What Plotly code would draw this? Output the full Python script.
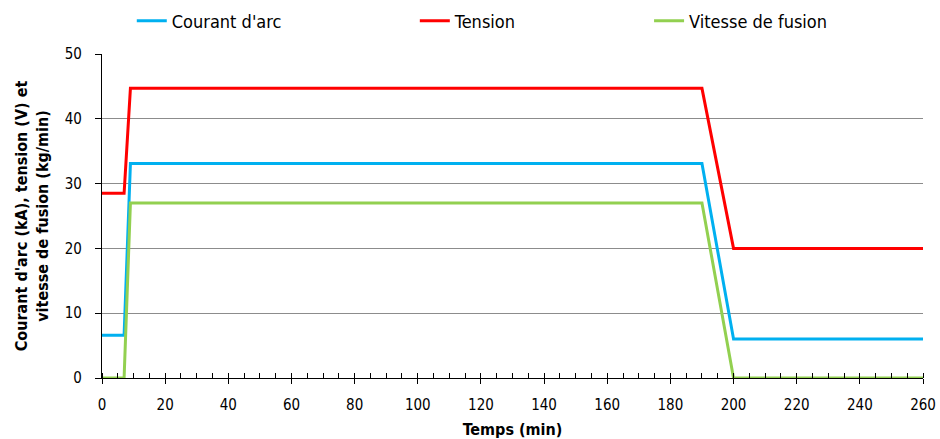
import plotly.graph_objects as go

time_courant = [0, 7, 9, 190, 200, 260]
courant = [6.6, 6.6, 33.1, 33.1, 6.0, 6.0]
time_tension = [0, 7, 9, 190, 200, 260]
tension = [28.5, 28.5, 44.7, 44.7, 20.0, 20.0]
time_vitesse = [0, 7, 9, 190, 200, 260]
vitesse = [0, 0, 27.0, 27.0, 0, 0]

names = ["Courant d'arc", "Tension", "Vitesse de fusion"]
colors = ["#00B0F0", "#FF0000", "#92D050"]

font_family = "DejaVu Sans Condensed, Liberation Sans Narrow, sans-serif"

fig = go.Figure()
series = [(time_courant, courant), (time_tension, tension), (time_vitesse, vitesse)]
legends = ["legend", "legend2", "legend3"]
for (x, y), n, c, lg in zip(series, names, colors, legends):
    fig.add_trace(go.Scatter(x=x, y=y, mode="lines", name=n, showlegend=True,
                             line=dict(color=c, width=3), legend=lg))

# helper axis carrying the upper half of the crossing major ticks
fig.add_trace(go.Scatter(x=[0, 260], y=[0, 0], mode="lines", xaxis="x2",
                         line=dict(width=0), hoverinfo="skip", showlegend=False))

leg_common = dict(orientation="h", yanchor="middle", xanchor="left",
                  xref="container", yref="container", y=0.952,
                  font=dict(family=font_family, size=18, color="#000"),
                  bgcolor="rgba(0,0,0,0)", itemwidth=30)
fig.update_layout(
    showlegend=True,
    legend=dict(x=0.1402, **leg_common),
    legend2=dict(x=0.4413, **leg_common),
    legend3=dict(x=0.6905, **leg_common),
)

fig.update_layout(
    width=940, height=439,
    margin=dict(l=102, r=17, t=54, b=61, autoexpand=False),
    paper_bgcolor="white", plot_bgcolor="white",
    font=dict(family=font_family, size=15, color="#000"),
    xaxis=dict(range=[0, 260], tickmode="linear", tick0=0, dtick=20, automargin=False,
               showgrid=False, zeroline=False, showline=True,
               linecolor="#000", linewidth=1.2,
               ticks="outside", ticklen=5, tickcolor="#000", ticklabelstandoff=8,
               minor=dict(dtick=5, ticks="inside", ticklen=5, tickcolor="#000", showgrid=False),
               tickfont=dict(size=15),
               title=dict(text="<b>Temps (min)</b>", font=dict(size=16), standoff=11)),
    xaxis2=dict(range=[0, 260], overlaying="x", anchor="y", side="bottom",
                tickmode="linear", tick0=0, dtick=20, automargin=False,
                showgrid=False, zeroline=False, showline=False,
                ticks="inside", ticklen=5, tickcolor="#000", showticklabels=False),
    yaxis=dict(range=[0, 50], tickmode="linear", tick0=0, dtick=10, automargin=False,
               showgrid=True, gridcolor="#8c8c8c", gridwidth=1,
               zeroline=False, showline=True, linecolor="#000", linewidth=1.2,
               ticks="outside", ticklen=6, tickcolor="#000", ticklabelstandoff=10,
               tickfont=dict(size=15),
               title=dict(text="<b>Courant d'arc (kA), tension (V) et<br>vitesse de fusion (kg/min)</b>",
                          font=dict(size=16), standoff=12)),
)

fig.write_html(
    "out.html",
    config={"displayModeBar": False},
    post_script="document.body.style.margin='0';document.documentElement.style.overflow='hidden';",
)
